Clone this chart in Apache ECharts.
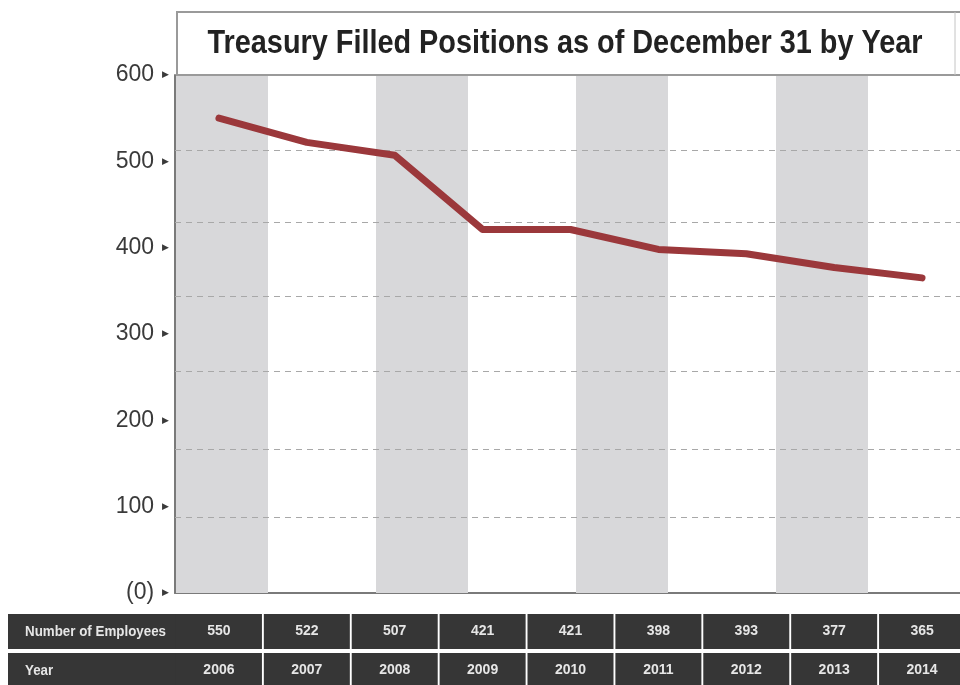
<!DOCTYPE html>
<html><head><meta charset="utf-8">
<script src="https://cdn.jsdelivr.net/npm/echarts@6/dist/echarts.min.js"></script>
<style>html,body{margin:0;padding:0;background:#fff}#c{width:960px;height:685px}</style>
</head><body><div id="c"></div>
<script>
const titleText = 'Treasury Filled Positions as of December 31 by Year';
const years = ['2006','2007','2008','2009','2010','2011','2012','2013','2014'];
const employees = [550,522,507,421,421,398,393,377,365];
const yTickLabels = ['(0)','100','200','300','400','500','600'];
const gridValues = [88,167,257,344,429,513];
const rowLabels = ['Number of Employees','Year'];

const SANS = '"Liberation Sans", Arial, sans-serif';
const cell = {width:86, height:35, lineHeight:35, backgroundColor:'#363636', color:'#e6e6e6',
  fontFamily:SANS, fontWeight:'bold', fontSize:14, align:'center'};

// measure text to emulate the condensed typeface with a horizontal scale
const ctx = document.createElement('canvas').getContext('2d');
function widthOf(font, text){ ctx.font = font; return ctx.measureText(text).width; }
const titleFont = 'bold 34px ' + SANS;
const titleScale = 715 / widthOf(titleFont, titleText);
const rowFont = 'bold 15px ' + SANS;
const rowScale = 141 / widthOf(rowFont, rowLabels[0]);

// background stripes: 4 grey bands on a helper axis (1 unit ≈ 100px)
const bandAxisMax = 7.91;
const bands = [0, 1, 2, 3].map(i => [{xAxis: 2 * i + 0.01}, {xAxis: 2 * i + 0.93}]);

const chart = echarts.init(document.getElementById('c'), null, {renderer:'canvas'});
chart.setOption({
  animation:false,
  backgroundColor:'#ffffff',
  grid:{left:175, right:-6, top:75, bottom:92, containLabel:false, outerBoundsMode:'none'},
  xAxis:[
    {type:'category', data:years, position:'bottom', boundaryGap:true,
     axisLine:{show:true, lineStyle:{color:'#7a7a7a', width:2}}, axisTick:{show:false},
     splitLine:{show:false},
     axisLabel:{interval:0, margin:21, hideOverlap:false, formatter:(v,i)=>'{c|'+employees[i]+'}', rich:{c:cell}}},
    {type:'category', data:years, position:'bottom', boundaryGap:true,
     axisLine:{show:false}, axisTick:{show:false}, splitLine:{show:false},
     axisLabel:{interval:0, margin:60, hideOverlap:false, formatter:v=>'{c|'+v+'}', rich:{c:cell}}},
    {type:'value', min:0, max:bandAxisMax, position:'top', show:true,
     axisLine:{show:false}, axisTick:{show:false}, axisLabel:{show:false}, splitLine:{show:false}}
  ],
  yAxis:{type:'value', min:0, max:600, interval:100,
    axisLine:{show:true, lineStyle:{color:'#7a7a7a', width:2}}, axisTick:{show:false},
    splitLine:{show:false},
    axisLabel:{margin:6, formatter:v=>'{n|'+yTickLabels[Math.round(v/100)]+'}{s|}{a|▶}',
      rich:{n:{fontFamily:SANS, fontSize:23, color:'#3a3a3a'},
            s:{width:8},
            a:{fontFamily:'"DejaVu Sans", sans-serif', fontSize:9, color:'#3a3a3a'}}}},
  series:[
    {type:'line', data:[], xAxisIndex:2, yAxisIndex:0, z:0, silent:true,
     markArea:{silent:true, itemStyle:{color:'#d8d8da'}, label:{show:false}, data:bands}},
    {type:'line', data:[], xAxisIndex:0, yAxisIndex:0, z:1, silent:true,
     markLine:{silent:true, symbol:'none', label:{show:false},
       lineStyle:{type:[6,5], color:'#a8a8a8', width:1},
       data:gridValues.map(v=>({yAxis:v}))}},
    {type:'line', data:employees, xAxisIndex:0, yAxisIndex:0, z:5, silent:true, symbol:'none',
     lineStyle:{color:'#9b383b', width:7, cap:'round', join:'round'}}
  ],
  graphic:[
    {type:'rect', shape:{x:177, y:12, width:790, height:63}, style:{fill:'#ffffff', stroke:'#9a9a9a', lineWidth:2}, z:10},
    {type:'line', shape:{x1:955, y1:12, x2:955, y2:75}, style:{stroke:'#c4c4c4', lineWidth:1}, z:11},
    {type:'text', x:565, y:44, scaleX:titleScale, style:{text:titleText, textAlign:'center', textVerticalAlign:'middle',
      font:titleFont, fill:'#222222'}, z:12},
    {type:'rect', shape:{x:8, y:614, width:200, height:35}, style:{fill:'#363636'}, z:-1},
    {type:'rect', shape:{x:8, y:653, width:200, height:35}, style:{fill:'#363636'}, z:-1},
    {type:'text', x:25, y:631.5, scaleX:rowScale, style:{text:rowLabels[0], textVerticalAlign:'middle', font:rowFont, fill:'#e6e6e6'}, z:12},
    {type:'text', x:25, y:670.5, scaleX:rowScale, style:{text:rowLabels[1], textVerticalAlign:'middle', font:rowFont, fill:'#e6e6e6'}, z:12}
  ]
});
</script></body></html>
